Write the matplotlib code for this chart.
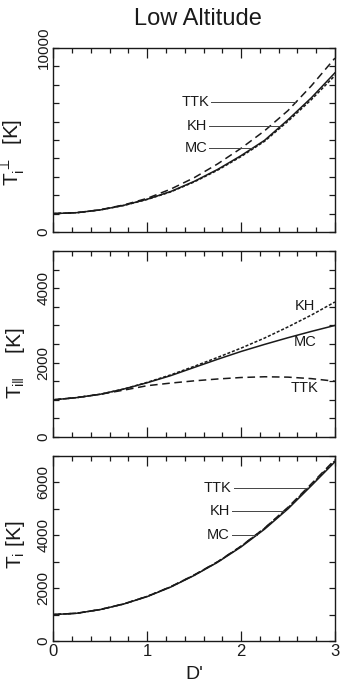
import matplotlib
matplotlib.use("Agg")
import matplotlib.pyplot as plt
import numpy as np
from matplotlib.ticker import FixedLocator, MultipleLocator

plt.rcParams["font.family"] = ["Liberation Sans", "DejaVu Sans"]
plt.rcParams["mathtext.fontset"] = "custom"
plt.rcParams["mathtext.rm"] = "Liberation Sans"
plt.rcParams["mathtext.it"] = "Liberation Sans"
plt.rcParams["mathtext.sf"] = "Liberation Sans"

# normalised drift D' and ion temperatures [K] for the three models
d_prime = [0.0, 0.25, 0.5, 0.75, 1.0, 1.25, 1.5, 1.75, 2.0, 2.25, 2.5, 2.75, 3.0]

t_perp_mc = [1000, 1050, 1200, 1450, 1780, 2200, 2750, 3400, 4150, 4980, 6100, 7300, 8650]
t_perp_kh = [1000, 1050, 1200, 1440, 1770, 2180, 2720, 3360, 4100, 4930, 6020, 7200, 8500]
t_perp_ttk = [1000, 1050, 1210, 1470, 1830, 2330, 2950, 3700, 4550, 5500, 6600, 7950, 9450]

t_par_mc = [1000, 1060, 1150, 1290, 1460, 1650, 1870, 2090, 2300, 2490, 2670, 2840, 3000]
t_par_kh = [1000, 1060, 1150, 1290, 1470, 1670, 1900, 2140, 2390, 2660, 2960, 3280, 3630]
t_par_ttk = [1000, 1060, 1150, 1260, 1380, 1450, 1510, 1560, 1600, 1620, 1610, 1570, 1500]

t_tot_mc = [1000, 1050, 1190, 1400, 1680, 2040, 2480, 2980, 3560, 4230, 5000, 5880, 6780]
t_tot_kh = [1000, 1050, 1190, 1400, 1690, 2050, 2490, 2990, 3580, 4260, 5040, 5920, 6820]
t_tot_ttk = [1000, 1050, 1195, 1405, 1690, 2055, 2500, 3000, 3590, 4270, 5060, 5950, 6860]

INK = "#1a1a1a"
STYLES = {
    "MC": dict(linestyle="-", linewidth=1.1),
    "KH": dict(linestyle=(0, (2.0, 1.2)), linewidth=1.1),
    "TTK": dict(linestyle=(0, (5.0, 3.0)), linewidth=1.1),
}

fig = plt.figure(figsize=(3.4, 6.88), dpi=100)
ax_perp = fig.add_axes([0.157, 0.6628, 0.828, 0.2674])
ax_par = fig.add_axes([0.157, 0.3648, 0.828, 0.2703])
ax_tot = fig.add_axes([0.157, 0.0683, 0.828, 0.2689])


def style_axis(ax, ymax, major, minor, show_x):
    ax.set_xlim(0, 3)
    ax.set_ylim(0, ymax)
    ax.xaxis.set_major_locator(FixedLocator([0, 1, 2, 3]))
    ax.xaxis.set_minor_locator(MultipleLocator(0.2))
    ax.yaxis.set_major_locator(FixedLocator(major))
    ax.yaxis.set_minor_locator(MultipleLocator(minor))
    ax.tick_params(which="both", direction="in", top=True, right=True,
                   color=INK, width=0.9, labelcolor=INK)
    ax.tick_params(axis="x", which="major", length=7, labelsize=12, pad=2)
    ax.tick_params(axis="x", which="minor", length=3.5)
    ax.tick_params(axis="y", which="major", length=4, labelsize=11, pad=2)
    ax.tick_params(axis="y", which="minor", length=4)
    for lab in ax.get_yticklabels():
        lab.set_rotation(90)
        lab.set_va("center")
    if not show_x:
        ax.tick_params(axis="x", labelbottom=False)
    for sp in ax.spines.values():
        sp.set_linewidth(1.0)
        sp.set_color(INK)


def leader(ax, x_text, y_text, name, curve):
    # horizontal pointer from the label to where its curve reaches that level
    x_end = np.interp(y_text, curve, d_prime)
    ax.text(x_text, y_text, name, ha="right", va="center", fontsize=10.5, color=INK)
    ax.plot([x_text + 0.02, x_end], [y_text, y_text], color="#444444", linewidth=0.7)


# perpendicular temperature
perp = {"MC": t_perp_mc, "KH": t_perp_kh, "TTK": t_perp_ttk}
for name in ["TTK", "KH", "MC"]:
    ax_perp.plot(d_prime, perp[name], color=INK, **STYLES[name])
style_axis(ax_perp, 10000, [0, 10000], 1000, False)
ax_perp.set_ylabel(r"$T_i^{\perp}$  [K]", fontsize=15, color=INK)
ax_perp.yaxis.set_label_coords(-0.095, 0.43)
leader(ax_perp, 1.66, 7065, "TTK", t_perp_ttk)
leader(ax_perp, 1.64, 5760, "KH", t_perp_kh)
leader(ax_perp, 1.64, 4565, "MC", t_perp_mc)

# parallel temperature
par = {"MC": t_par_mc, "KH": t_par_kh, "TTK": t_par_ttk}
for name in ["TTK", "KH", "MC"]:
    ax_par.plot(d_prime, par[name], color=INK, **STYLES[name])
style_axis(ax_par, 5000, [0, 2000, 4000], 500, False)
ax_par.set_ylabel(r"$T_{i\|}$    [K]", fontsize=15, color=INK)
ax_par.yaxis.set_label_coords(-0.095, 0.40)
ax_par.text(2.68, 3520, "KH", ha="center", va="center", fontsize=10.5, color=INK)
ax_par.text(2.68, 2550, "MC", ha="center", va="center", fontsize=10.5, color=INK)
ax_par.text(2.68, 1320, "TTK", ha="center", va="center", fontsize=10.5, color=INK)

# total ion temperature
tot = {"MC": t_tot_mc, "KH": t_tot_kh, "TTK": t_tot_ttk}
for name in ["TTK", "KH", "MC"]:
    ax_tot.plot(d_prime, tot[name], color=INK, **STYLES[name])
style_axis(ax_tot, 7000, [0, 2000, 4000, 6000], 1000, True)
ax_tot.set_ylabel(r"$T_i$ [K]", fontsize=15, color=INK)
ax_tot.yaxis.set_label_coords(-0.095, 0.52)
ax_tot.set_xlabel("D'", fontsize=14, color=INK, labelpad=5)
leader(ax_tot, 1.90, 5780, "TTK", t_tot_ttk)
leader(ax_tot, 1.88, 4920, "KH", t_tot_kh)
leader(ax_tot, 1.88, 4010, "MC", t_tot_mc)

fig.text(0.581, 0.972, "Low Altitude", ha="center", va="center",
         fontsize=17, color=INK)

fig.savefig("out.png", dpi=100, facecolor="white")
